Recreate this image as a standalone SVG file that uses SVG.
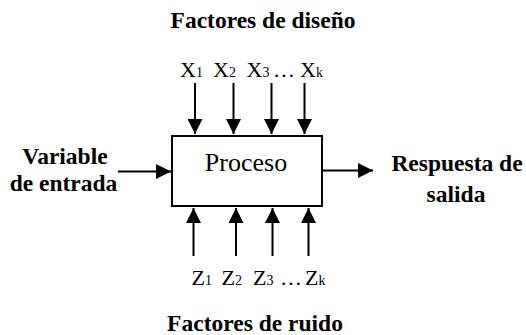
<svg xmlns="http://www.w3.org/2000/svg" width="526" height="335" viewBox="0 0 526 335">
  <style>
    .lbl { font-family: "Liberation Serif", "Times New Roman", serif; font-weight: bold; font-size: 23.5px; fill: #000; }
    .var { font-family: "Liberation Serif", "Times New Roman", serif; font-size: 22px; fill: #000; }
    .sub { font-size: 14px; }
    .proc { font-family: "Liberation Serif", "Times New Roman", serif; font-size: 26px; fill: #000; }
    .wire { stroke: #000; stroke-width: 2; fill: none; }
  </style>
  <defs>
    <marker id="head" viewBox="0 0 15 15" refX="15" refY="7.5" markerWidth="15" markerHeight="15" markerUnits="userSpaceOnUse" orient="auto">
      <path d="M0,0 L15,7.5 L0,15 Z" fill="#000"/>
    </marker>
  </defs>

  <!-- headings -->
  <g id="factores-diseno">
    <text class="lbl" x="263" y="27.5" text-anchor="middle">Factores de diseño</text>
  </g>
  <g id="factores-ruido">
    <text class="lbl" x="255" y="331" text-anchor="middle">Factores de ruido</text>
  </g>

  <!-- design factors -->
  <g id="x-labels" class="var">
    <text x="180" y="77">X<tspan class="sub">1</tspan></text>
    <text x="213" y="77">X<tspan class="sub">2</tspan></text>
    <text x="246.5" y="77">X<tspan class="sub">3</tspan></text>
    <text x="273" y="77">…</text>
    <text x="300" y="77">X<tspan class="sub">k</tspan></text>
  </g>

  <!-- noise factors -->
  <g id="z-labels" class="var">
    <text x="191.5" y="285">Z<tspan class="sub">1</tspan></text>
    <text x="221.5" y="285">Z<tspan class="sub">2</tspan></text>
    <text x="253" y="285">Z<tspan class="sub">3</tspan></text>
    <text x="280" y="285">…</text>
    <text x="305" y="285">Z<tspan class="sub">k</tspan></text>
  </g>

  <!-- process block -->
  <g id="proceso">
    <rect x="172" y="136" width="150" height="70" fill="#fff" stroke="#000" stroke-width="2"/>
    <text class="proc" x="246" y="171" text-anchor="middle">Proceso</text>
  </g>

  <g id="entrada">
    <text class="lbl" x="65" y="163.5" text-anchor="middle">Variable</text>
    <text class="lbl" x="63.5" y="191" text-anchor="middle">de entrada</text>
  </g>

  <g id="salida">
    <text class="lbl" x="457" y="171" text-anchor="middle">Respuesta de</text>
    <text class="lbl" x="456" y="202" text-anchor="middle">salida</text>
  </g>

  <!-- connectors -->
  <g id="connectors" class="wire" marker-end="url(#head)">
    <line x1="195" y1="83" x2="195" y2="134"/>
    <line x1="233.5" y1="83" x2="233.5" y2="134"/>
    <line x1="271.5" y1="83" x2="271.5" y2="134"/>
    <line x1="304.5" y1="83" x2="304.5" y2="134"/>

    <line x1="193.5" y1="256" x2="193.5" y2="208"/>
    <line x1="236" y1="256" x2="236" y2="208"/>
    <line x1="272.5" y1="256" x2="272.5" y2="208"/>
    <line x1="308.5" y1="256" x2="308.5" y2="208"/>

    <line x1="118" y1="171.5" x2="171" y2="171.5"/>
    <line x1="323" y1="170.5" x2="373" y2="170.5"/>
  </g>
</svg>
